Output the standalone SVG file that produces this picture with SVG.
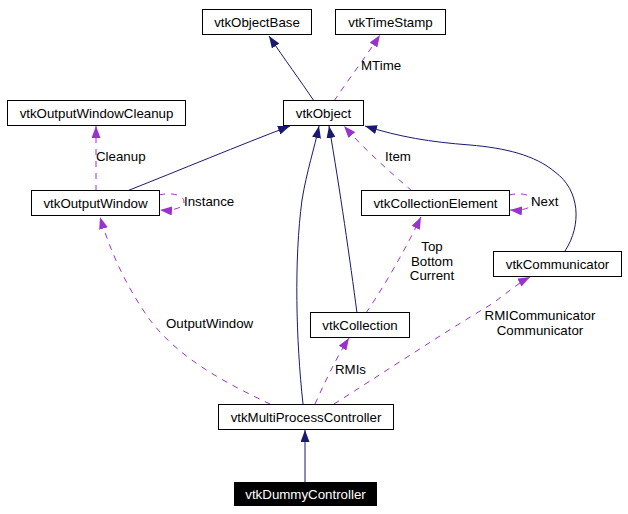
<svg xmlns="http://www.w3.org/2000/svg" width="628" height="514" viewBox="0 0 628 514">
<style>
text{font-family:"Liberation Sans",Arial,sans-serif;font-size:13.3px;fill:#000}
.n rect{fill:#fff;stroke:#000;stroke-width:1}
.n text{text-anchor:middle}
.inh{fill:none;stroke:#191970;stroke-width:1}
.use{fill:none;stroke:#9a32cd;stroke-width:1;stroke-dasharray:6,6}
.lbl{text-anchor:start}
.c{text-anchor:middle}
</style>
<defs>
<marker id="an" markerUnits="userSpaceOnUse" markerWidth="13" markerHeight="9" refX="12" refY="4.5" orient="auto">
<path d="M0,0 L12,4.5 L0,9 z" fill="#191970"/>
</marker>
<marker id="ap" markerUnits="userSpaceOnUse" markerWidth="13" markerHeight="9" refX="12" refY="4.5" orient="auto">
<path d="M0,0 L12,4.5 L0,9 z" fill="#9a32cd"/>
</marker>
</defs>
<rect width="628" height="514" fill="#fff"/>
<g id="connectors">
<path class="inh" d="M314,101 C300,80 285,60 269,36" marker-end="url(#an)"/>
<path class="use" d="M334,101 C348,80 365,58 380,35" marker-end="url(#ap)"/>
<path class="inh" d="M127,191 C180,170 240,145 290,126" marker-end="url(#an)"/>
<path class="use" d="M96,191 L96,126" marker-end="url(#ap)"/>
<path class="use" d="M159,195 C172,192 184,195 184,202 C184,208 172,211 160,210" marker-end="url(#ap)"/>
<path class="use" d="M270,404 C230,385 180,360 150,320 C125,285 110,250 100,217" marker-end="url(#ap)"/>
<path class="inh" d="M303,404 C296,340 294,260 302,200 C307,170 314,150 319,126" marker-end="url(#an)"/>
<path class="inh" d="M357,313 C350,260 340,190 329,126" marker-end="url(#an)"/>
<path class="use" d="M412,191 C390,172 365,150 344,126" marker-end="url(#ap)"/>
<path class="use" d="M509,195 C522,192 533,195 533,202 C533,208 522,211 510,210" marker-end="url(#ap)"/>
<path class="inh" d="M565,251 C582,225 580,190 555,172 C535,155 505,148 470,145 C430,142 400,137 365,126" marker-end="url(#an)"/>
<path class="use" d="M366,313 C385,285 405,250 421,217" marker-end="url(#ap)"/>
<path class="use" d="M315,404 C325,382 335,360 349,338" marker-end="url(#ap)"/>
<path class="use" d="M334,404 C380,375 440,335 490,305 C505,295 515,285 530,277" marker-end="url(#ap)"/>
<path class="inh" d="M305,482 L305,430" marker-end="url(#an)"/>
</g>
<g id="labels">
<text class="lbl" x="361" y="70">MTime</text>
<text class="lbl" x="96" y="161">Cleanup</text>
<text class="lbl" x="184" y="206">Instance</text>
<text class="lbl" x="385" y="161">Item</text>
<text class="lbl" x="531" y="206">Next</text>
<text class="c" x="432" y="251">Top</text>
<text class="c" x="432" y="266">Bottom</text>
<text class="c" x="432" y="280">Current</text>
<text class="lbl" x="166" y="328">OutputWindow</text>
<text class="c" x="540" y="320">RMICommunicator</text>
<text class="c" x="540" y="335">Communicator</text>
<text class="lbl" x="335" y="374">RMIs</text>
</g>
<g id="vtkObjectBase" class="n"><rect x="202.5" y="9.5" width="109" height="25"/><text x="257" y="27">vtkObjectBase</text></g>
<g id="vtkTimeStamp" class="n"><rect x="335.5" y="9.5" width="110" height="25"/><text x="390.5" y="27">vtkTimeStamp</text></g>
<g id="vtkObject" class="n"><rect x="283.5" y="100.5" width="80" height="25"/><text x="323.5" y="118">vtkObject</text></g>
<g id="vtkOutputWindowCleanup" class="n"><rect x="7.5" y="100.5" width="178" height="25"/><text x="96.5" y="118">vtkOutputWindowCleanup</text></g>
<g id="vtkOutputWindow" class="n"><rect x="31.5" y="190.5" width="128" height="25"/><text x="95.5" y="208">vtkOutputWindow</text></g>
<g id="vtkCollectionElement" class="n"><rect x="361.5" y="190.5" width="148" height="25"/><text x="435.5" y="208">vtkCollectionElement</text></g>
<g id="vtkCommunicator" class="n"><rect x="493.5" y="251.5" width="128" height="25"/><text x="557.5" y="269">vtkCommunicator</text></g>
<g id="vtkCollection" class="n"><rect x="310.5" y="312.5" width="99" height="25"/><text x="360" y="330">vtkCollection</text></g>
<g id="vtkMultiProcessController" class="n"><rect x="218.5" y="404.5" width="175" height="25"/><text x="306" y="422">vtkMultiProcessController</text></g>
<g id="vtkDummyController"><rect x="234" y="482" width="143" height="24" fill="#000"/><text x="305.5" y="499" style="fill:#fff;text-anchor:middle">vtkDummyController</text></g>
</svg>
